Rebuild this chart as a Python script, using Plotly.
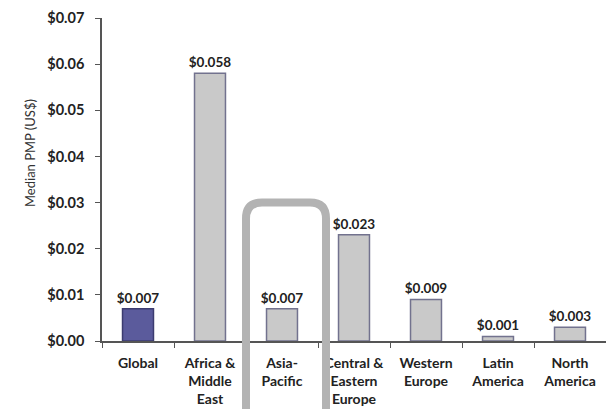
import plotly.graph_objects as go

categories = ["Global", "Africa &<br>Middle<br>East", "Asia-<br>Pacific", "Central &<br>Eastern<br>Europe",
              "Western<br>Europe", "Latin<br>America", "North<br>America"]
values = [0.007, 0.058, 0.007, 0.023, 0.009, 0.001, 0.003]
labels = ["$0.007", "$0.058", "$0.007", "$0.023", "$0.009", "$0.001", "$0.003"]
tick_vals = [0, 0.01, 0.02, 0.03, 0.04, 0.05, 0.06, 0.07]
tick_text = ["$0.00", "$0.01", "$0.02", "$0.03", "$0.04", "$0.05", "$0.06", "$0.07"]

fill_colors = ["#5b5b9c"] + ["#c9c9c9"] * 6
line_colors = ["#3c3c70"] + ["#72728e"] * 6

W, H = 614, 409
OFF = 8  # page body margin offset
# desired plot area in window pixels: x 102..606, y 18..341
L, T = 102 - OFF, 18 - OFF
R = W - (606 - OFF)
B = H - (341 - OFF)
FONT = "Lato"

fig = go.Figure()
fig.add_trace(go.Bar(
    x=categories, y=values, text=labels, textposition="outside", constraintext="none",
    textfont=dict(family=FONT, size=13.5, color="#222222", weight="bold"),
    marker=dict(color=fill_colors, line=dict(color=line_colors, width=1.5)),
    width=0.43, cliponaxis=False,
))

# rounded highlight around Asia-Pacific (window pixel geometry -> paper coords)
pw, ph = W - L - R, H - T - B
def px(x): return (x - OFF - L) / pw
def py(y): return (H - B - (y - OFF)) / ph
x0, x1, y0, y1, r = 246, 326, 202.5, 430, 16
path = (f"M {px(x0)},{py(y1)} L {px(x0)},{py(y0 + r)} "
        f"Q {px(x0)},{py(y0)} {px(x0 + r)},{py(y0)} "
        f"L {px(x1 - r)},{py(y0)} "
        f"Q {px(x1)},{py(y0)} {px(x1)},{py(y0 + r)} "
        f"L {px(x1)},{py(y1)}")
fig.add_shape(type="path", path=path, xref="paper", yref="paper",
              line=dict(color="#b3b3b3", width=8), layer="above")

fig.add_annotation(text="Median PMP (US$)", xref="paper", yref="paper",
                   x=px(20), y=py(153), textangle=-90, showarrow=False,
                   font=dict(family=FONT, size=13, color="#333333"))

fig.update_layout(
    width=W, height=H, margin=dict(l=L, r=R, t=T, b=B, pad=0),
    plot_bgcolor="white", paper_bgcolor="white", showlegend=False,
    font=dict(family=FONT, color="#222222"),
)
fig.update_yaxes(range=[0, 0.07], tickvals=tick_vals, ticktext=tick_text, automargin=False,
                 ticklabeloverflow="allow", ticklabelstandoff=8,
                 showgrid=False, zeroline=False, showline=True, linecolor="#555555", linewidth=1.5,
                 ticks="outside", ticklen=5, tickcolor="#555555",
                 tickfont=dict(family=FONT, size=14.5, weight="bold", color="#222222"))
fig.update_xaxes(showline=True, linecolor="#555555", linewidth=1.5, automargin=False,
                 ticklabeloverflow="allow", ticklabelstandoff=8,
                 ticks="outside", ticklen=5, tickcolor="#555555", tickson="boundaries",
                 tickfont=dict(family=FONT, size=14, weight="bold", color="#222222"), tickangle=0)

fig.write_html("out.html")
